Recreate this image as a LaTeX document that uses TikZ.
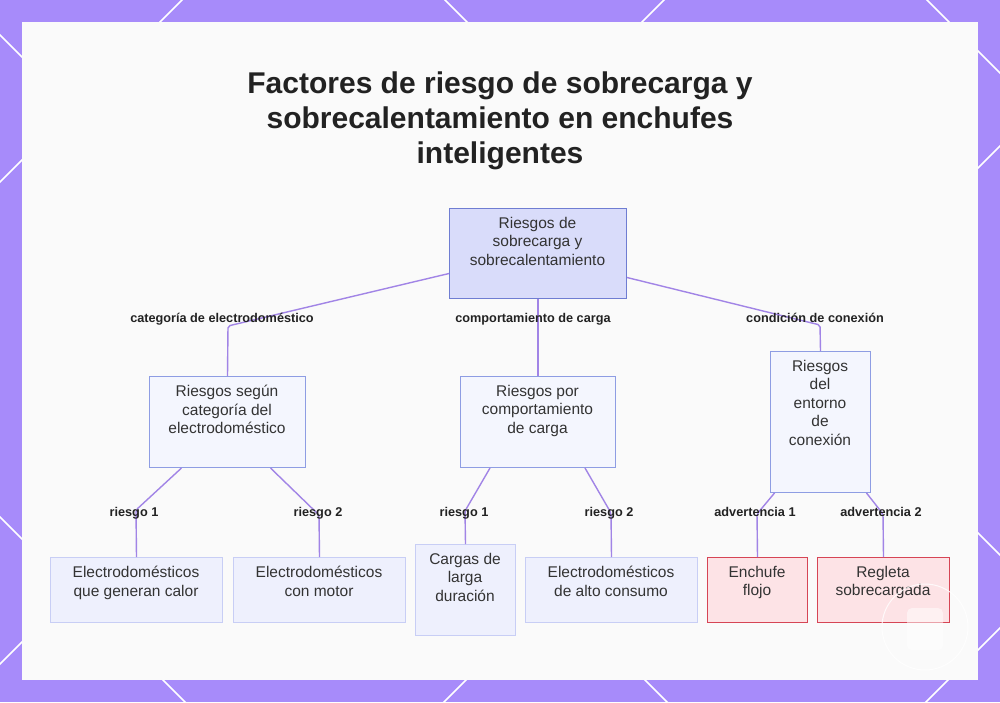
\documentclass[tikz,border=0pt]{standalone}
\usepackage{fontspec}
\setmainfont{Liberation Sans}
\definecolor{frame}{HTML}{A78BFA}
\definecolor{card}{HTML}{FAFAFA}
\definecolor{edgecol}{HTML}{A184E6}
\definecolor{rootfill}{HTML}{D9DCFA}
\definecolor{rootdraw}{HTML}{6F7DD2}
\definecolor{midfill}{HTML}{F4F6FE}
\definecolor{middraw}{HTML}{8E9DE3}
\definecolor{leaffill}{HTML}{EEF0FD}
\definecolor{leafdraw}{HTML}{C8CEF5}
\definecolor{redfill}{HTML}{FDE3E6}
\definecolor{reddraw}{HTML}{D64555}
\definecolor{txtcol}{HTML}{333333}
\definecolor{titlecol}{HTML}{222222}
\begin{document}
\begin{tikzpicture}[x=1pt,y=-1pt,
  boxbase/.style={inner sep=0pt, anchor=north west, line width=1pt},
  rootbox/.style={boxbase, fill=rootfill, draw=rootdraw},
  midbox/.style={boxbase, fill=midfill, draw=middraw},
  leafbox/.style={boxbase, fill=leaffill, draw=leafdraw},
  redbox/.style={boxbase, fill=redfill, draw=reddraw},
  txt/.style={align=center, inner sep=0pt, anchor=north, text=txtcol, font=\fontsize{15.5}{18.5}\selectfont},
  lbl/.style={inner sep=0pt, anchor=base, text=titlecol, font=\bfseries\fontsize{12.7}{15}\selectfont},
  edge/.style={draw=edgecol, line width=1.4pt, rounded corners=2pt},
  deco/.style={draw=white, line width=1.5pt}
]
\useasboundingbox (0,0) rectangle (1000,702);
\clip (0,0) rectangle (1000,702);
% frame and decorative lines
\fill[frame] (0,0) rectangle (1000,702);
\foreach \c in {-927,-445,35,517} {\draw[deco] (-100,-100+\c) -- (1100,1100+\c);}
\foreach \c in {182,664,1146,1628} {\draw[deco] (-100,\c+100) -- (1100,\c-1100);}
\fill[card] (22,22) rectangle (978,680);

% title (base anchor = baseline of the last line)
\node[inner sep=0pt, anchor=base, text=titlecol, align=center,
  font=\bfseries\fontsize{30}{35}\selectfont] (title) at (500,163)
  {Factores de riesgo de sobrecarga y\\sobrecalentamiento en enchufes\\inteligentes};

% boxes
\node[rootbox, minimum width=177pt, minimum height=90pt] (root) at (449,208) {};
\node[midbox, minimum width=156pt, minimum height=91pt] (A) at (149,376) {};
\node[midbox, minimum width=155pt, minimum height=91pt] (B) at (460,376) {};
\node[midbox, minimum width=100pt, minimum height=141pt] (C) at (770,351) {};
\node[leafbox, minimum width=172pt, minimum height=65pt] (A1) at (50,557) {};
\node[leafbox, minimum width=172pt, minimum height=65pt] (A2) at (233,557) {};
\node[leafbox, minimum width=100pt, minimum height=91pt] (B1) at (415,544) {};
\node[leafbox, minimum width=172pt, minimum height=65pt] (B2) at (525,557) {};
\node[redbox, minimum width=100pt, minimum height=65pt] (C1) at (707,557) {};
\node[redbox, minimum width=132pt, minimum height=65pt] (C2) at (817,557) {};

% connectors
\draw[edge] ([yshift=-20pt]root.west) -- (228,326) -- (A.north);
\draw[edge] (root.south) -- (B.north);
\draw[edge] ([yshift=-24pt]root.east) -- (820,325) -- (C.north);
\draw[edge] ([xshift=-46pt]A.south) -- (136,510) -- (A1.north);
\draw[edge] ([xshift=43pt]A.south) -- (319,515) -- (A2.north);
\draw[edge] ([xshift=-48pt]B.south) -- (465,511) -- (B1.north);
\draw[edge] ([xshift=47pt]B.south) -- (611,513) -- (B2.north);
\draw[edge] ([xshift=-46pt]C.south) -- (757,514) -- (C1.north);
\draw[edge] ([xshift=46pt]C.south) -- (883,514) -- (C2.north);

% box texts
\node[txt] (rootT) at (537.5,217) {Riesgos de\\sobrecarga y\\sobrecalentamiento};
\node[txt] (AT) at (227,385) {Riesgos según\\categoría del\\electrodoméstico};
\node[txt] (BT) at (537.5,385) {Riesgos por\\comportamiento\\de carga};
\node[txt] (CT) at (820,360) {Riesgos\\del\\entorno\\de\\conexión};
\node[txt] (A1T) at (136,566) {Electrodomésticos\\que generan calor};
\node[txt] (A2T) at (319,566) {Electrodomésticos\\con motor};
\node[txt] (B1T) at (465,553) {Cargas de\\larga\\duración};
\node[txt] (B2T) at (611,566) {Electrodomésticos\\de alto consumo};
\node[txt] (C1T) at (757,566) {Enchufe\\flojo};
\node[txt] (C2T) at (883,566) {Regleta\\sobrecargada};

% edge labels
\node[lbl] (l1) at (222,322.5) {categoría de electrodoméstico};
\node[lbl] (l2) at (533,322.5) {comportamiento de carga};
\node[lbl] (l3) at (815,322.5) {condición de conexión};
\node[lbl] (l4) at (134,516) {riesgo 1};
\node[lbl] (l5) at (318,516) {riesgo 2};
\node[lbl] (l6) at (464,516) {riesgo 1};
\node[lbl] (l7) at (609,516) {riesgo 2};
\node[lbl] (l8) at (755,516) {advertencia 1};
\node[lbl] (l9) at (881,516) {advertencia 2};

% faint watermark badge
\draw[white, opacity=0.8, line width=1pt] (925,627) circle (43);
\fill[white, opacity=0.5, rounded corners=5pt] (907,608) rectangle (943,650);
\end{tikzpicture}
\end{document}
